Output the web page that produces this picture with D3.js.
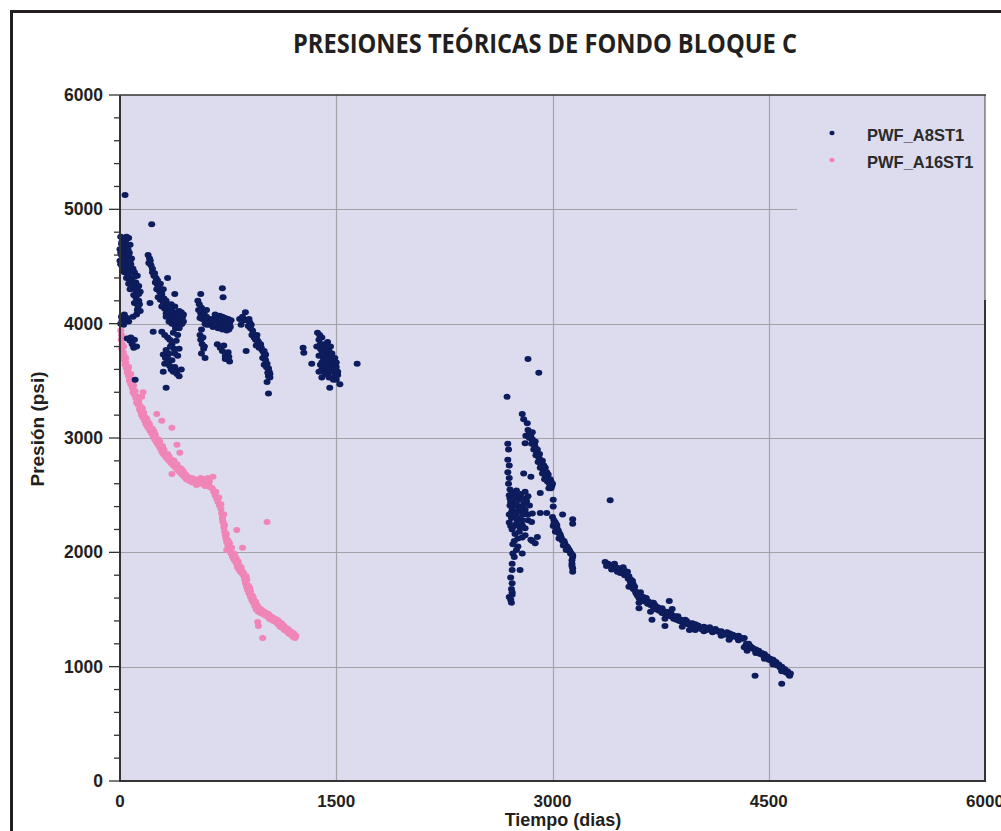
<!DOCTYPE html>
<html>
<head>
<meta charset="utf-8">
<script src="https://cdn.jsdelivr.net/npm/d3@7"></script>
<style>
  body { margin: 0; background: #fff; }
  svg { display: block; }
  text { font-family: "Liberation Sans", Arial, sans-serif; fill: #231f20; }
</style>
</head>
<body>
<div id="chart"></div>
<script>
// axis settings
var xTicks = [0, 1500, 3000, 4500, 6000];
var yTicks = [0, 1000, 2000, 3000, 4000, 5000, 6000];
var yMinorTicks = d3.range(0, 6001, 200);
var seriesNames = ["PWF_A8ST1", "PWF_A16ST1"];

// PWF_A8ST1 [dias, psi], first years
var a8Early = [
  [35,5125],[5,4760],[20,4740],[40,4730],[60,4750],[10,4700],[30,4690],[50,4680],[70,4690],
  [0,4650],[20,4640],[45,4630],[65,4620],[10,4600],[35,4590],[55,4580],[80,4570],[0,4550],
  [25,4540],[50,4530],[75,4520],[15,4500],[40,4490],[90,4480],[30,4450],[60,4440],[100,4450],
  [45,4400],[80,4390],[120,4420],[60,4350],[95,4340],[130,4330],[70,4300],[110,4290],[140,4280],
  [110,4230],[130,4200],[100,4180],[125,4150],[140,4110],[115,4080],[90,4060],[10,4060],[30,4080],
  [50,4050],[5,4000],[25,3990],[60,4020],[50,3870],[70,3850],[100,3860],[115,3800],[85,3820],[105,3510],
  [15,4720],[45,4760],[25,4670],[55,4650],[5,4620],[30,4610],[60,4600],[20,4570],[45,4560],[70,4550],
  [5,4520],[60,4500],[30,4470],[75,4460],[55,4420],[100,4410],[70,4370],[110,4360],[85,4320],[120,4310],
  [130,4260],[95,4250],[115,4200],[135,4170],[120,4120],[40,4020],[15,4030],[75,3880],[95,3790],
  [220,4870],[195,4600],[205,4570],[200,4530],[215,4510],[225,4480],[225,4450],[235,4420],[250,4400],
  [245,4360],[260,4340],[270,4330],[330,4400],[255,4300],[275,4280],[290,4260],[265,4230],[280,4210],
  [300,4190],[315,4170],[290,4150],[310,4130],[330,4110],[350,4120],[370,4100],[390,4090],[410,4110],
  [425,4100],[345,4080],[365,4060],[385,4040],[405,4060],[425,4050],[440,4080],[320,4060],[340,4020],
  [360,4000],[380,3990],[400,4010],[420,3990],[440,4020],[355,4170],[380,4150],[380,4260],
  [210,4550],[240,4440],[260,4380],[280,4350],[265,4310],[300,4300],[285,4240],[305,4220],[320,4200],
  [330,4160],[340,4140],[360,4140],[300,4160],[320,4090],[355,4100],[375,4080],[395,4070],[415,4080],
  [435,4060],[350,4050],[370,4030],[395,4020],[415,4030],[430,4000],[410,3960],[385,3960],
  [290,3930],[310,3900],[330,3880],[370,3920],[400,3900],[390,3850],[360,3820],[320,3770],[340,3740],
  [300,3730],[330,3700],[360,3680],[310,3650],[345,3630],[380,3620],[370,3580],[395,3560],[410,3540],
  [425,3600],[400,3720],[410,3780],[300,3580],[320,3440],[208,4180],[230,3930],
  [350,3800],[375,3780],[335,3660],[355,3600],[390,3590],[315,3700],[345,3860],[380,3740],
  [540,4200],[550,4170],[560,4260],[565,4140],[575,4110],[560,4090],[585,4080],[600,4060],[570,4040],
  [610,4020],[625,4040],[590,4000],[620,3990],[640,4010],[655,4050],[670,4060],[690,4070],[710,4060],
  [730,4050],[750,4040],[770,4030],[645,3970],[665,4000],[685,4020],[705,4000],[725,3990],[745,3980],
  [765,3970],[680,3960],[710,3950],[740,3940],[710,4310],[715,4230],[600,4120],
  [650,4030],[660,4080],[680,4040],[700,4040],[720,4030],[740,4020],[760,4000],[700,3980],[720,3960],
  [755,3950],[675,3990],[630,4020],[545,4120],[555,4050],[590,4040],[600,3990],[565,3950],
  [555,3900],[560,3860],[570,3820],[580,3780],[565,3740],[590,3700],[675,3820],[695,3790],[710,3760],
  [730,3720],[745,3690],[760,3670],[720,3810],[750,3750],[575,3880],[585,3800],[730,3690],[700,3800],[755,3710],
  [830,4040],[850,4060],[870,4100],[880,4030],[900,4010],[890,3980],[840,3990],[905,3960],[920,3940],
  [915,3900],[930,3880],[940,3860],[950,3900],[960,3840],[975,3820],[965,3790],[985,3770],[995,3750],
  [1005,3720],[990,3700],[1010,3680],[1020,3650],[1025,3610],[1035,3580],[1030,3540],[1040,3530],
  [1020,3490],[1030,3390],[875,3760],[945,3810],[1000,3640],
  [860,4030],[895,4040],[910,3990],[925,3910],[945,3880],[955,3850],[970,3800],[980,3790],[1000,3760],
  [1010,3730],[1000,3700],[1015,3620],[1030,3610],[1040,3560],[1025,3570],
  [1270,3790],[1275,3745],[1330,3650],[1370,3920],[1380,3860],[1365,3800],[1390,3820],[1400,3760],
  [1380,3720],[1420,3780],[1410,3700],[1440,3740],[1430,3660],[1460,3700],[1390,3640],[1450,3620],
  [1480,3660],[1420,3600],[1470,3580],[1500,3620],[1440,3560],[1490,3540],[1510,3580],[1380,3580],
  [1400,3530],[1455,3440],[1525,3470],[1645,3650],[1400,3880],[1460,3800],[1500,3510],
  [1390,3780],[1410,3820],[1430,3800],[1450,3760],[1420,3720],[1470,3740],[1490,3700],[1450,3680],
  [1400,3660],[1470,3640],[1500,3660],[1430,3620],[1460,3600],[1490,3590],[1510,3550],[1420,3560],
  [1450,3530],[1480,3510],[1385,3900],[1440,3840],[1400,3600]
];

// PWF_A8ST1 [dias, psi], later years
var a8Late = [
  [2830,3690],[2905,3570],[2685,3360],[2790,3210],[2800,3165],[2825,3130],
  [2830,3070],[2845,3040],[2840,3000],[2860,2990],[2855,2950],[2875,2940],[2870,2900],[2890,2880],
  [2885,2850],[2905,2830],[2900,2790],[2920,2770],[2915,2740],[2935,2720],[2930,2690],[2950,2670],
  [2945,2640],[2965,2620],[2980,2600],[2995,2580],[2975,2560],[2860,3050],[2880,2970],[2910,2860],
  [2930,2800],[2950,2740],[2970,2680],[2990,2620],[2810,2955],[2815,3020],
  [2835,3030],[2850,3010],[2865,2970],[2880,2920],[2895,2900],[2900,2860],[2915,2810],[2925,2780],
  [2940,2760],[2945,2710],[2960,2700],[2960,2650],[2985,2640],[2975,2610],[3000,2600],[2990,2560],
  [2690,2950],[2695,2900],[2690,2810],[2700,2760],[2690,2700],[2700,2650],[2695,2600],[2705,2550],
  [2700,2500],[2720,2520],[2750,2540],[2780,2510],[2810,2530],[2740,2480],[2770,2460],[2800,2470],
  [2830,2490],[2710,2440],[2750,2420],[2790,2400],[2720,2380],[2760,2360],[2810,2370],[2840,2410],
  [2730,2320],[2770,2300],[2800,2330],[2860,2340],[2700,2260],[2750,2250],[2790,2240],[2830,2280],
  [2720,2200],[2770,2180],[2810,2150],[2760,2120],[2850,2110],[2860,2100],
  [2705,2470],[2725,2460],[2760,2500],[2790,2470],[2820,2450],[2735,2410],[2770,2390],[2800,2420],
  [2715,2350],[2745,2340],[2785,2350],[2830,2330],[2715,2300],[2755,2280],[2790,2280],[2735,2230],
  [2775,2220],[2810,2210],[2740,2160],[2790,2130],[2745,2500],[2705,2410],[2700,2330],[2710,2230],
  [2725,2070],[2760,2050],[2790,1990],[2735,1960],[2720,1845],[2775,1845],[2720,1730],[2715,1680],
  [2720,1630],[2710,1585],[2800,2690],[2850,2660],
  [2735,2100],[2750,2020],[2725,1990],[2720,1900],[2710,1780],[2720,1650],[2700,1610],[2715,1560],
  [3000,2310],[3010,2280],[3020,2260],[3005,2230],[3030,2220],[3040,2190],[3020,2180],[3050,2160],
  [3060,2130],[3045,2120],[3070,2100],[3085,2080],[3075,2060],[3100,2050],[3110,2030],[3095,2020],
  [3120,2010],[3130,1990],[3140,1975],[3135,1930],[3135,1880],[3140,1830],[3005,2460],[3005,2400],
  [3070,2330],[3140,2290],[3140,2250],[2915,2345],[2960,2345],[2915,2520],[2880,2080],[2895,2135],[2855,2265],
  [3010,2250],[3030,2240],[3025,2200],[3045,2170],[3055,2150],[3065,2110],[3080,2100],[3090,2060],
  [3105,2040],[3115,2020],[3125,1990],[3140,1960],[3135,1900],[3140,1860],
  [3365,1915],[3385,1900],[3400,1890],[3420,1880],[3440,1870],[3460,1860],[3480,1850],[3500,1840],
  [3510,1800],[3525,1770],[3540,1740],[3550,1710],[3560,1680],[3575,1660],[3590,1620],[3600,1600],
  [3620,1590],[3640,1570],[3660,1550],[3680,1540],[3700,1520],[3720,1500],[3740,1490],[3760,1470],
  [3780,1460],[3800,1450],[3820,1440],[3840,1420],[3860,1410],[3880,1400],[3900,1390],[3920,1380],
  [3940,1370],[3960,1360],[3980,1355],[4000,1350],[4020,1345],[4040,1340],[4060,1335],[4080,1330],
  [4100,1325],[4120,1320],[4140,1310],[4160,1300],[4180,1295],[4200,1290],[4220,1280],[4240,1275],
  [4260,1270],[4280,1265],[4300,1255],[4320,1245],[4340,1180],[4360,1160],[4380,1170],[4400,1150],
  [4420,1130],[4440,1110],[4460,1100],[4480,1080],[4500,1060],[4520,1050],[4540,1030],[4560,1010],
  [4580,990],[4600,970],[4620,950],[4640,930],
  [3450,1830],[3500,1800],[3560,1720],[3610,1650],[3650,1600],[3700,1560],[3760,1510],[3820,1470],
  [3870,1440],[3920,1410],[3970,1380],[3990,1320],[4050,1310],[4110,1300],[4170,1270],[4230,1250],
  [4290,1230],[4350,1140],[4410,1120],[4470,1070],[4530,1020],[4590,960],[4645,920],[3530,1700],
  [3600,1560],[3680,1480],[3780,1420],[3900,1350],[3950,1320],
  [3375,1880],[3410,1850],[3430,1900],[3470,1820],[3490,1870],[3520,1830],[3530,1790],[3545,1760],
  [3555,1750],[3570,1700],[3580,1640],[3595,1630],[3610,1610],[3630,1610],[3650,1580],[3665,1570],
  [3690,1560],[3710,1540],[3730,1520],[3750,1500],[3770,1480],[3790,1480],[3810,1460],[3830,1450],
  [3850,1440],[3870,1420],[3890,1410],[3910,1400],[3930,1400],[3950,1380],[3970,1350],[3990,1370],
  [4010,1360],[4030,1330],[4050,1350],[4070,1320],[4090,1345],[4110,1320],[4130,1330],[4150,1310],
  [4170,1310],[4190,1280],[4210,1300],[4230,1290],[4250,1280],[4270,1260],[4290,1270],[4310,1250],
  [4330,1250],[4345,1200],[4370,1180],[4390,1160],[4410,1150],[4430,1140],[4450,1120],[4470,1110],
  [4490,1090],[4510,1070],[4530,1060],[4550,1040],[4570,1020],[4590,1000],[4610,980],[4630,960],
  [4650,940],[4330,1170],[4360,1200],
  [3810,1575],[3830,1505],[4405,920],[4590,850],[3780,1355],[3690,1410],[3600,1510],[4225,1235],[3400,2455]
];

// PWF_A16ST1 [dias, psi]
var a16 = [
  [5,3940],[10,3900],[8,3860],[15,3820],[12,3780],[22,3750],[20,3710],[30,3680],[35,3640],[45,3610],
  [50,3570],[60,3540],[65,3500],[75,3470],[85,3440],[90,3400],[40,3660],[28,3720],[55,3600],[70,3520],
  [95,3460],[100,3380],[110,3350],[115,3310],[125,3290],[135,3250],[145,3230],[150,3200],[160,3180],
  [170,3150],[180,3120],[190,3100],[200,3080],[210,3060],[105,3410],[130,3320],[155,3260],[175,3180],
  [195,3140],[160,3400],[255,3210],[290,3150],[360,3090],[150,3360],
  [220,3040],[230,3010],[240,2990],[250,2970],[260,2950],[270,2930],[280,2910],[290,2880],[300,2860],
  [315,2840],[325,2820],[340,2800],[355,2780],[370,2760],[385,2740],[400,2720],[415,2700],[430,2680],
  [445,2660],[460,2640],[235,3060],[265,2990],[295,2930],[330,2860],[360,2810],[395,2770],[425,2730],
  [455,2680],[395,2940],[415,2870],[360,2685],
  [475,2630],[490,2620],[505,2610],[520,2640],[540,2620],[555,2600],[570,2610],[585,2640],[600,2620],
  [615,2600],[625,2570],[640,2560],[650,2530],[660,2500],[670,2470],[680,2440],[690,2410],[700,2380],
  [645,2660],[610,2650],[560,2650],[530,2590],[590,2580],
  [705,2340],[710,2300],[715,2260],[720,2220],[725,2180],[730,2150],[735,2120],[740,2090],[748,2060],
  [755,2040],[765,2020],[770,1990],[780,1960],[790,1940],[800,1920],[810,1900],[815,1870],[825,1850],
  [835,1830],[850,1810],[860,1790],[865,1760],[870,1730],[878,1700],[885,1670],[895,1640],[905,1610],
  [915,1580],[925,1560],[935,1530],[945,1500],[960,1480],[975,1470],[990,1460],[1005,1450],[1020,1440],
  [1035,1420],[1050,1410],[1065,1400],[1080,1390],[1095,1370],[1110,1350],[1125,1340],[1140,1320],
  [1155,1310],[1170,1290],[1185,1280],[1200,1260],[1215,1250],
  [720,2330],[745,2110],[760,2080],[795,1980],[830,1880],[845,1840],[880,1760],[900,1690],[920,1620],
  [950,1540],[985,1490],[1030,1460],[1060,1430],[1100,1400],[1150,1340],[1190,1300],
  [18,3880],[25,3800],[40,3700],[60,3620],[75,3560],[90,3500],[120,3360],[140,3280],[165,3220],
  [185,3170],[205,3120],[225,3080],[245,3030],[275,2970],[305,2900],[340,2840],[375,2800],[410,2740],
  [440,2710],[470,2660],[500,2650],[550,2630],[580,2620],[620,2620],[665,2530],[685,2480],[700,2420],
  [712,2280],[725,2240],[738,2160],[752,2100],[775,2040],[790,1990],[805,1950],[820,1920],[840,1870],
  [858,1820],[875,1790],[890,1710],[905,1660],[925,1600],[940,1570],[960,1520],[980,1500],[1000,1480],
  [1015,1470],[1045,1440],[1075,1420],[1090,1410],[1120,1380],[1135,1360],[1165,1330],[1180,1310],
  [1205,1290],[1220,1270],
  [1020,2265],[810,2195],[740,2020],[955,1390],[990,1250],[960,1355],[850,2040]
];

var colors = { a8: "#0d1c5c", a16: "#ef86b7" };

var W = 1001, H = 831;
var plot = { left: 120, right: 985, top: 95, bottom: 781 };

var svg = d3.select("#chart").append("svg")
    .attr("width", W)
    .attr("height", H);

// outer frame
svg.append("rect")
    .attr("x", 11.5).attr("y", 11.5)
    .attr("width", W + 20).attr("height", H + 20)
    .attr("fill", "none")
    .attr("stroke", "#231f20")
    .attr("stroke-width", 3);

var x = d3.scaleLinear().domain([0, 6000]).range([plot.left, plot.right]);
var y = d3.scaleLinear().domain([0, 6000]).range([plot.bottom, plot.top]);

// plot background
svg.append("rect")
    .attr("x", plot.left).attr("y", plot.top)
    .attr("width", plot.right - plot.left)
    .attr("height", plot.bottom - plot.top)
    .attr("fill", "#dddbee");

// gridlines
svg.append("g").selectAll("line")
    .data(xTicks.filter(function(d) { return d > 0 && d < 6000; }))
    .enter().append("line")
    .attr("x1", function(d) { return Math.round(x(d)) + 0.5; })
    .attr("x2", function(d) { return Math.round(x(d)) + 0.5; })
    .attr("y1", plot.top).attr("y2", plot.bottom)
    .attr("stroke", "#a3a2ab").attr("stroke-width", 1.2);

svg.append("g").selectAll("line")
    .data(yTicks.filter(function(d) { return d > 0 && d < 6000; }))
    .enter().append("line")
    .attr("x1", plot.left).attr("x2", plot.right)
    .attr("y1", function(d) { return Math.round(y(d)) + 0.5; })
    .attr("y2", function(d) { return Math.round(y(d)) + 0.5; })
    .attr("stroke", "#a3a2ab").attr("stroke-width", 1.2);

// legend box (same fill as plot, hides the gridline behind it)
svg.append("rect")
    .attr("x", 797).attr("y", plot.top + 1)
    .attr("width", plot.right - 797).attr("height", 205)
    .attr("fill", "#dddbee");

// plot border
svg.append("line")
    .attr("x1", plot.left).attr("x2", plot.right + 1)
    .attr("y1", plot.top).attr("y2", plot.top)
    .attr("stroke", "#333").attr("stroke-width", 1.5);
svg.append("line")
    .attr("x1", plot.right).attr("x2", plot.right)
    .attr("y1", plot.top).attr("y2", 300)
    .attr("stroke", "#444").attr("stroke-width", 1);
svg.append("line")
    .attr("x1", plot.right).attr("x2", plot.right)
    .attr("y1", 300).attr("y2", plot.bottom)
    .attr("stroke", "#333").attr("stroke-width", 2);

// points
function drawPoints(data, color) {
    svg.append("g").selectAll("ellipse")
        .data(data)
        .enter().append("ellipse")
        .attr("cx", function(d) { return x(d[0]); })
        .attr("cy", function(d) { return y(d[1]); })
        .attr("rx", 3.5)
        .attr("ry", 3.0)
        .attr("fill", color);
}
drawPoints(a16, colors.a16);
drawPoints(a8Early, colors.a8);
drawPoints(a8Late, colors.a8);

// y axis
var yAxis = svg.append("g").attr("transform", "translate(" + plot.left + ",0)");
yAxis.selectAll("line.minor")
    .data(yMinorTicks)
    .enter().append("line")
    .attr("class", "minor")
    .attr("x1", function(d) { return d % 1000 === 0 ? -11 : -6; })
    .attr("x2", 0)
    .attr("y1", function(d) { return y(d); })
    .attr("y2", function(d) { return y(d); })
    .attr("stroke", "#333").attr("stroke-width", 1.3);
yAxis.append("line")
    .attr("x1", 0).attr("x2", 0)
    .attr("y1", plot.top).attr("y2", plot.bottom + 1)
    .attr("stroke", "#333").attr("stroke-width", 2);
yAxis.selectAll("text")
    .data(yTicks)
    .enter().append("text")
    .attr("x", -17)
    .attr("y", function(d) { return y(d) + 6; })
    .attr("text-anchor", "end")
    .style("font-size", "17.5px")
    .style("font-weight", "bold")
    .text(function(d) { return d; });

// x axis
var xAxis = svg.append("g").attr("transform", "translate(0," + plot.bottom + ")");
xAxis.append("line")
    .attr("x1", plot.left).attr("x2", plot.right + 1)
    .attr("y1", 0).attr("y2", 0)
    .attr("stroke", "#333").attr("stroke-width", 2);
xAxis.selectAll("text")
    .data(xTicks)
    .enter().append("text")
    .attr("x", function(d) { return x(d); })
    .attr("y", 26)
    .attr("text-anchor", "middle")
    .style("font-size", "17px")
    .style("font-weight", "bold")
    .text(function(d) { return d; });

// axis titles
svg.append("text")
    .attr("x", 563).attr("y", 826)
    .attr("text-anchor", "middle")
    .style("font-size", "18px")
    .style("font-weight", "bold")
    .text("Tiempo (dias)");

svg.append("text")
    .attr("transform", "translate(44,429) rotate(-90)")
    .attr("text-anchor", "middle")
    .style("font-size", "19px")
    .style("font-weight", "bold")
    .text("Presión (psi)");

// title
svg.append("text")
    .attr("x", 545).attr("y", 53)
    .attr("text-anchor", "middle")
    .attr("textLength", 504)
    .attr("lengthAdjust", "spacingAndGlyphs")
    .style("font-family", "'Open Sans', sans-serif")
    .style("font-size", "27px")
    .style("font-weight", "bold")
    .text("PRESIONES TEÓRICAS DE FONDO BLOQUE C");

// legend
var legend = svg.append("g");
var legendColors = [colors.a8, colors.a16];
legend.selectAll("ellipse")
    .data(seriesNames)
    .enter().append("ellipse")
    .attr("cx", 832)
    .attr("cy", function(d, i) { return 133 + i * 27; })
    .attr("rx", 2.6).attr("ry", 2.2)
    .attr("fill", function(d, i) { return legendColors[i]; });
legend.selectAll("text")
    .data(seriesNames)
    .enter().append("text")
    .attr("x", 867)
    .attr("y", function(d, i) { return 141 + i * 27; })
    .style("font-size", "16.5px")
    .style("font-weight", "bold")
    .style("fill", "#2a2a2a")
    .text(function(d) { return d; });
</script>
</body>
</html>
